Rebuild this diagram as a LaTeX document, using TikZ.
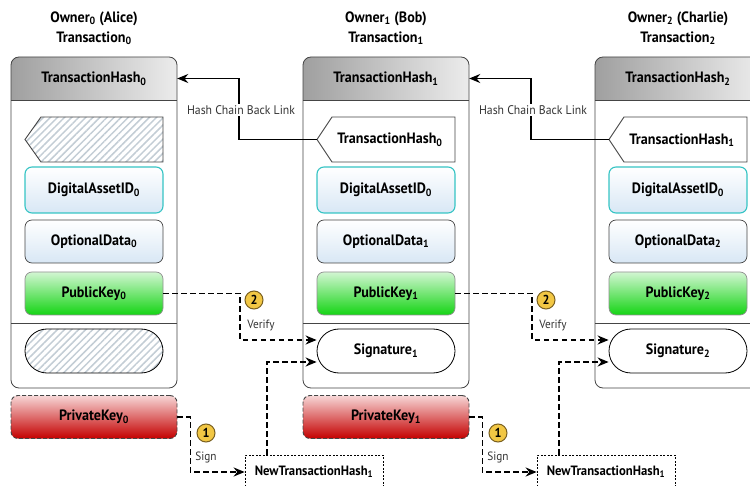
\documentclass[tikz,border=0pt]{standalone}
\usepackage{fontspec}
\setmainfont{PT Sans}
\newfontfamily\condfont[FakeStretch=0.94]{PT Sans}
\usetikzlibrary{patterns.meta,arrows.meta,shapes.misc}

\definecolor{assetedge}{HTML}{35C4C4}
\definecolor{paleblue}{HTML}{D8E7F5}
\definecolor{keygreen}{HTML}{14D414}
\definecolor{midgreen}{HTML}{4EEA4E}
\definecolor{lightgreen}{HTML}{D2F6D2}
\definecolor{keyred}{HTML}{C40000}
\definecolor{lightred}{HTML}{F7D6D6}
\definecolor{badge}{HTML}{F2C744}
\definecolor{badgeedge}{HTML}{7A6020}
\definecolor{hatchline}{HTML}{C3CDD5}
\definecolor{frame}{HTML}{454545}
\definecolor{note}{HTML}{333333}

\tikzset{
  lbl/.style={font=\condfont\bfseries\fontsize{15}{17}\selectfont},
  title/.style={font=\condfont\bfseries\fontsize{15}{20}\selectfont, align=center},
  field/.style={lbl, rounded corners=7pt, minimum width=138pt, minimum height=44pt,
    inner sep=0pt, line width=0.7pt},
  assetbox/.style={field, minimum height=46pt, draw=assetedge, line width=1.1pt,
    top color=white, bottom color=paleblue},
  databox/.style={field, minimum height=43pt, draw=frame, top color=white, bottom color=paleblue},
  pubbox/.style={field, minimum height=43pt, draw=frame!60, top color=lightgreen,
    middle color=midgreen, bottom color=keygreen},
  privbox/.style={lbl, rounded corners=7pt, minimum width=166pt, minimum height=43pt,
    inner sep=0pt, draw=frame, dash pattern=on 4pt off 2pt, line width=0.9pt,
    top color=lightred, bottom color=keyred},
  sigbox/.style={lbl, rounded rectangle, minimum width=138pt, minimum height=44pt,
    inner sep=0pt, draw=black, line width=0.8pt},
  hatchfill/.style={pattern={Lines[angle=45,distance=5pt,line width=1.5pt]}, pattern color=hatchline},
  txbox/.style={draw=frame, line width=0.8pt, rounded corners=8pt, minimum width=166pt,
    minimum height=331pt, inner sep=0pt},
  hdr/.style={lbl, minimum width=166pt, minimum height=43pt, inner sep=0pt},
  pentline/.style={draw=frame, line width=0.9pt},
  newhash/.style={font=\condfont\bfseries\fontsize{13.5}{15}\selectfont, draw=black, line width=0.7pt,
    dash pattern=on 2pt off 1.5pt, minimum width=138pt, minimum height=34pt, inner sep=0pt},
  badgenode/.style={circle, fill=badge, draw=badgeedge, line width=1pt, minimum size=18pt,
    inner sep=0pt, font=\condfont\bfseries\fontsize{13}{14}\selectfont},
  steplabel/.style={font=\condfont\fontsize{12}{13}\selectfont, text=note, inner sep=1pt},
  chainlabel/.style={font=\condfont\fontsize{12.5}{14}\selectfont, text=note, fill=white, inner sep=1.5pt},
  chainline/.style={line width=1.5pt, -{Stealth[length=11pt,width=9pt]}},
  flowline/.style={line width=1.8pt, dash pattern=on 5.5pt off 3.5pt, -{Stealth[length=11pt,width=9pt]}},
}

\begin{document}
\begin{tikzpicture}[x=1pt, y=-1pt]
  \useasboundingbox (0,0) rectangle (750,486);
  \clip (0,0) rectangle (750,486);

  % ---------- Transaction 0 (Alice) ----------
  \node[title] (title0) at (94,28) {Owner\textsubscript{0} (Alice)\\Transaction\textsubscript{0}};
  \begin{scope}
    \clip[rounded corners=8pt] (11,57) rectangle (177,388);
    \shade[left color=gray!75, right color=gray!15] (11,57) rectangle (177,100);
  \end{scope}
  \draw[frame, line width=0.8pt] (11,100) -- (177,100) (11,323) -- (177,323);
  \node[txbox] (box0) at (94,222.5) {};
  \node[hdr] (hdr0) at (94,78.5) {TransactionHash\textsubscript{0}};
  \path[hatchfill] (25,139.5) -- (41,117) -- (163,117) -- (163,162) -- (41,162) -- cycle;
  \draw[pentline] (25,139.5) -- (41,117) -- (163,117) -- (163,162) -- (41,162) -- cycle;
  \node[assetbox] (asset0) at (94,190) {DigitalAssetID\textsubscript{0}};
  \node[databox] (data0) at (94,241.5) {OptionalData\textsubscript{0}};
  \node[pubbox] (pub0) at (94,293.5) {PublicKey\textsubscript{0}};
  \node[sigbox, hatchfill] (sig0) at (94,351) {};
  \node[privbox] (priv0) at (94,417) {PrivateKey\textsubscript{0}};
  \node[newhash] (nth0) at (314,472) {NewTransactionHash\textsubscript{1}};
  \node[badgenode] (verifybadge0) at (254,300) {2};
  \node[steplabel] (verifytext0) at (261,325) {Verify};
  \node[badgenode] (signbadge0) at (206,433) {1};
  \node[steplabel] (signtext0) at (206,457) {Sign};

  % ---------- Transaction 1 (Bob) ----------
  \begin{scope}[xshift=292pt]
    \node[title] (title1) at (94,28) {Owner\textsubscript{1} (Bob)\\Transaction\textsubscript{1}};
    \begin{scope}
      \clip[rounded corners=8pt] (11,57) rectangle (177,388);
      \shade[left color=gray!75, right color=gray!15] (11,57) rectangle (177,100);
    \end{scope}
    \draw[frame, line width=0.8pt] (11,100) -- (177,100) (11,323) -- (177,323);
    \node[txbox] (box1) at (94,222.5) {};
    \node[hdr] (hdr1) at (94,78.5) {TransactionHash\textsubscript{1}};
    \draw[pentline, fill=white] (25,139.5) -- (40,117) -- (163,117) -- (163,162) -- (40,162) -- cycle;
    \coordinate (tip1) at (25,139.5);
    \node[lbl] (prev1) at (98,140) {TransactionHash\textsubscript{0}};
    \node[assetbox] (asset1) at (94,190) {DigitalAssetID\textsubscript{0}};
    \node[databox] (data1) at (94,241.5) {OptionalData\textsubscript{1}};
    \node[pubbox] (pub1) at (94,293.5) {PublicKey\textsubscript{1}};
    \node[sigbox, fill=white] (sig1) at (94,351) {Signature\textsubscript{1}};
    \node[privbox] (priv1) at (94,417) {PrivateKey\textsubscript{1}};
    \node[newhash] (nth1) at (314,472) {NewTransactionHash\textsubscript{1}};
    \node[badgenode] (verifybadge1) at (254,300) {2};
    \node[steplabel] (verifytext1) at (261,325) {Verify};
    \node[badgenode] (signbadge1) at (206,433) {1};
    \node[steplabel] (signtext1) at (206,457) {Sign};
  \end{scope}

  % ---------- Transaction 2 (Charlie) ----------
  \begin{scope}[xshift=584pt]
    \node[title] (title2) at (94,28) {Owner\textsubscript{2} (Charlie)\\Transaction\textsubscript{2}};
    \begin{scope}
      \clip[rounded corners=8pt] (11,57) rectangle (177,388);
      \shade[left color=gray!75, right color=gray!15] (11,57) rectangle (177,100);
    \end{scope}
    \draw[frame, line width=0.8pt] (11,100) -- (177,100) (11,323) -- (177,323);
    \node[txbox] (box2) at (94,222.5) {};
    \node[hdr] (hdr2) at (94,78.5) {TransactionHash\textsubscript{2}};
    \draw[pentline, fill=white] (25,139.5) -- (40,117) -- (163,117) -- (163,162) -- (40,162) -- cycle;
    \coordinate (tip2) at (25,139.5);
    \node[lbl] (prev2) at (98,140) {TransactionHash\textsubscript{1}};
    \node[assetbox] (asset2) at (94,190) {DigitalAssetID\textsubscript{0}};
    \node[databox] (data2) at (94,241.5) {OptionalData\textsubscript{2}};
    \node[pubbox] (pub2) at (94,293.5) {PublicKey\textsubscript{2}};
    \node[sigbox, fill=white] (sig2) at (94,351) {Signature\textsubscript{2}};
  \end{scope}

  % ---------- hash chain back links ----------
  \draw[chainline] (tip1) -- ++(-78,0) |- (hdr0.east);
  \draw[chainline] (tip2) -- ++(-78,0) |- (hdr1.east);
  \node[chainlabel] (chaintext1) at (241,110) {Hash Chain Back Link};
  \node[chainlabel] (chaintext2) at (533,110) {Hash Chain Back Link};

  % ---------- verify and sign flows ----------
  \draw[flowline] (pub0.east) -- ++(77,0) |- ([yshift=11pt]sig1.west);
  \draw[flowline] ([xshift=22pt]nth0.north west) |- ([yshift=-11pt]sig1.west);
  \draw[flowline] (priv0.east) -- ++(13,0) |- (nth0.west);

  \draw[flowline] (pub1.east) -- ++(77,0) |- ([yshift=11pt]sig2.west);
  \draw[flowline] ([xshift=22pt]nth1.north west) |- ([yshift=-11pt]sig2.west);
  \draw[flowline] (priv1.east) -- ++(13,0) |- (nth1.west);
\end{tikzpicture}
\end{document}
